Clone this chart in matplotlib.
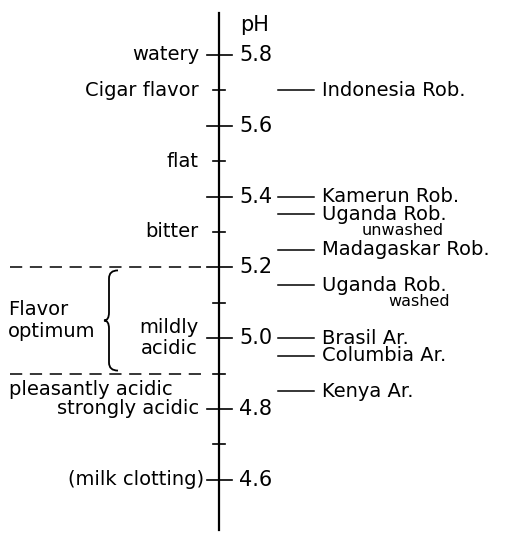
import matplotlib
matplotlib.use("Agg")
import matplotlib.pyplot as plt
from matplotlib.path import Path
from matplotlib.patches import PathPatch

# pH scale
major_ticks = [5.8, 5.6, 5.4, 5.2, 5.0, 4.8, 4.6]
minor_ticks = [5.7, 5.5, 5.3, 5.1, 4.9, 4.7]

# coffees on the right side
coffees = ["Indonesia Rob.", "Kamerun Rob.", "Uganda Rob.", "Madagaskar Rob.",
           "Uganda Rob.", "Brasil Ar.", "Columbia Ar.", "Kenya Ar."]
coffee_ph = [5.70, 5.40, 5.35, 5.25, 5.15, 5.00, 4.95, 4.85]
coffee_notes = ["", "", "unwashed", "", "washed", "", "", ""]

# flavor descriptions on the left side
flavors = ["watery", "Cigar flavor", "flat", "bitter", "mildly\nacidic",
           "strongly acidic", "(milk clotting)"]
flavor_ph = [5.8, 5.7, 5.5, 5.3, 5.0, 4.8, 4.6]
pleasant_label = "pleasantly acidic"
pleasant_ph = 4.855

# flavor optimum range
optimum = [4.9, 5.2]
optimum_label = "Flavor\noptimum"

PX = 354.0          # pixels per pH unit
Y_TOP = 5.8 + 55 / PX
FONT = "DejaVu Sans"
FS = 14             # labels
FS_TICK = 15        # pH numbers


def brace(ax, x_tip, x_right, low, high):
    # left pointing curly brace between low and high pH
    mid = (low + high) / 2
    xm = x_tip + 5
    r = 8 / PX
    verts = [(x_right, high), (xm, high), (xm, high - r),
             (xm, mid + r),
             (xm, mid), (x_tip, mid),
             (xm, mid), (xm, mid - r),
             (xm, low + r),
             (xm, low), (x_right, low)]
    codes = [Path.MOVETO, Path.CURVE3, Path.CURVE3,
             Path.LINETO,
             Path.CURVE3, Path.CURVE3,
             Path.CURVE3, Path.CURVE3,
             Path.LINETO,
             Path.CURVE3, Path.CURVE3]
    ax.add_patch(PathPatch(Path(verts, codes), fill=False, lw=1.3, color="black"))


def main():
    fig = plt.figure(figsize=(5.10, 5.33), dpi=100)
    ax = fig.add_axes([0, 0, 1, 1])
    ax.set_xlim(0, 510)
    ax.set_ylim(Y_TOP - 533 / PX, Y_TOP)
    ax.axis("off")

    x0 = 219
    # main axis
    ax.plot([x0, x0], [5.8 + 42 / PX, 4.6 - 50 / PX], color="black", lw=1.6)
    for t in major_ticks:
        ax.plot([x0 - 12, x0 + 13], [t, t], color="black", lw=1.2)
        ax.text(x0 + 20, t, f"{t:.1f}", ha="left", va="center", fontsize=FS_TICK, family=FONT)
    for t in minor_ticks:
        ax.plot([x0 - 6, x0 + 6], [t, t], color="black", lw=1.2)
    ax.text(x0 + 21, 5.8 + 30 / PX, "pH", ha="left", va="center", fontsize=FS_TICK, family=FONT)

    # coffees
    for name, ph, note in zip(coffees, coffee_ph, coffee_notes):
        ax.plot([278, 314], [ph, ph], color="black", lw=1.1)
        ax.text(322, ph, name, ha="left", va="center", fontsize=FS, family=FONT)
        if note:
            ax.text(362 + (26 if note == "washed" else 0), ph - 16 / PX, note,
                    ha="left", va="center", fontsize=11.5, family=FONT)

    # flavors
    for name, ph in zip(flavors, flavor_ph):
        x_end = 204 if name.startswith("(") else 199
        ax.text(x_end, ph, name, ha="right", va="center", fontsize=FS,
                family=FONT, multialignment="center", linespacing=1.1)
    ax.text(9, pleasant_ph, pleasant_label, ha="left", va="center", fontsize=FS, family=FONT)

    # flavor optimum
    for ph in optimum:
        ax.plot([10, 206], [ph, ph], color="black", lw=1.1, dashes=(8, 5))
    brace(ax, 104, 118, optimum[0] + 3 / PX, optimum[1] - 3 / PX)
    ax.text(8, sum(optimum) / 2, optimum_label, ha="left", va="center", fontsize=FS,
            family=FONT, linespacing=1.15)

    fig.savefig("out.png", dpi=100)


if __name__ == "__main__":
    main()
